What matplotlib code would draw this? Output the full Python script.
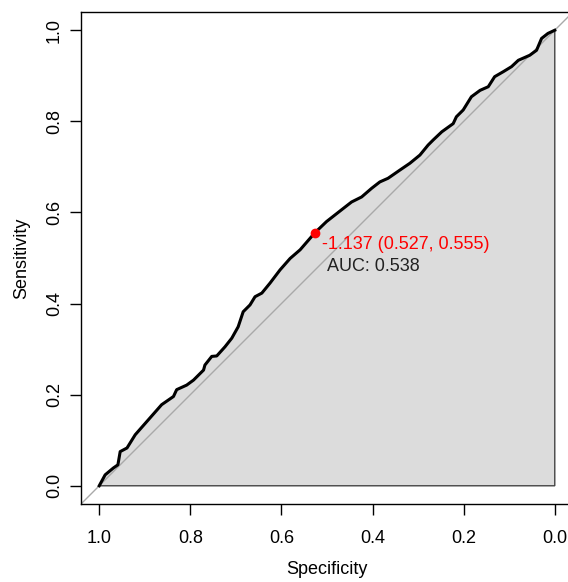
import matplotlib
matplotlib.use("Agg")
import matplotlib.pyplot as plt

plt.rcParams['font.family'] = ['Liberation Sans', 'DejaVu Sans']

# ROC curve (specificity, sensitivity)
spec = [1.000, 0.987, 0.969, 0.959, 0.954, 0.939, 0.921, 0.892, 0.863, 0.837,
        0.830, 0.808, 0.793, 0.771, 0.768, 0.753, 0.742, 0.724, 0.709, 0.695,
        0.684, 0.669, 0.658, 0.643, 0.625, 0.603, 0.581, 0.559, 0.527, 0.501,
        0.464, 0.446, 0.424, 0.402, 0.384, 0.366, 0.340, 0.318, 0.296, 0.278,
        0.267, 0.248, 0.223, 0.216, 0.201, 0.183, 0.164, 0.146, 0.132, 0.113,
        0.095, 0.080, 0.055, 0.040, 0.029, 0.015, 0.000]
sens = [0.000, 0.024, 0.039, 0.046, 0.075, 0.083, 0.112, 0.145, 0.178, 0.196,
        0.211, 0.221, 0.232, 0.254, 0.265, 0.284, 0.285, 0.305, 0.324, 0.349,
        0.382, 0.397, 0.415, 0.423, 0.445, 0.474, 0.499, 0.518, 0.555, 0.580,
        0.609, 0.623, 0.634, 0.653, 0.667, 0.675, 0.693, 0.708, 0.726, 0.748,
        0.759, 0.777, 0.795, 0.810, 0.825, 0.854, 0.868, 0.876, 0.898, 0.909,
        0.920, 0.934, 0.945, 0.956, 0.982, 0.993, 1.000]
best_thr = -1.137
best_spec = 0.527
best_sens = 0.555
auc = 0.538
ticks = [1.0, 0.8, 0.6, 0.4, 0.2, 0.0]

fig = plt.figure(figsize=(5.68, 5.82), dpi=100)
ax = fig.add_axes([81/568, 78/582, 492/568, 492/582])

# auc polygon
ax.fill(spec + [0.0, 1.0], sens + [0.0, 0.0], facecolor='#DCDCDC',
        edgecolor='#444444', lw=1, zorder=1)
ax.axline((1, 0), (0, 1), color='#A9A9A9', lw=1, zorder=2)
ax.plot(spec, sens, color='black', lw=2.2, zorder=3)

ax.plot(best_spec, best_sens, 'o', color='red', ms=6, zorder=4)
ax.annotate('%.3f (%.3f, %.3f)' % (best_thr, best_spec, best_sens),
            (best_spec, best_sens), xytext=(7, -3), textcoords='offset pixels',
            ha='left', va='top', color='red', fontsize=13)
ax.text(0.5, 0.5, 'AUC: %.3f' % auc, ha='left', va='top', fontsize=13,
        color='#222222')

ax.set_xlim(1.04, -0.04)
ax.set_ylim(-0.04, 1.04)
ax.set_xticks(ticks)
ax.set_yticks(ticks)
ax.set_xticklabels(['%.1f' % t for t in ticks])
ax.set_yticklabels(['%.1f' % t for t in ticks], rotation=90, va='center')
ax.tick_params(direction='out', length=8, width=1, labelsize=13)
ax.tick_params(axis='x', pad=11)
ax.tick_params(axis='y', pad=5)
for s in ax.spines.values():
    s.set_linewidth(1)
ax.set_xlabel('Specificity', fontsize=13, labelpad=10)
ax.set_ylabel('Sensitivity', fontsize=13, labelpad=11)

fig.savefig('out.png', dpi=100)
